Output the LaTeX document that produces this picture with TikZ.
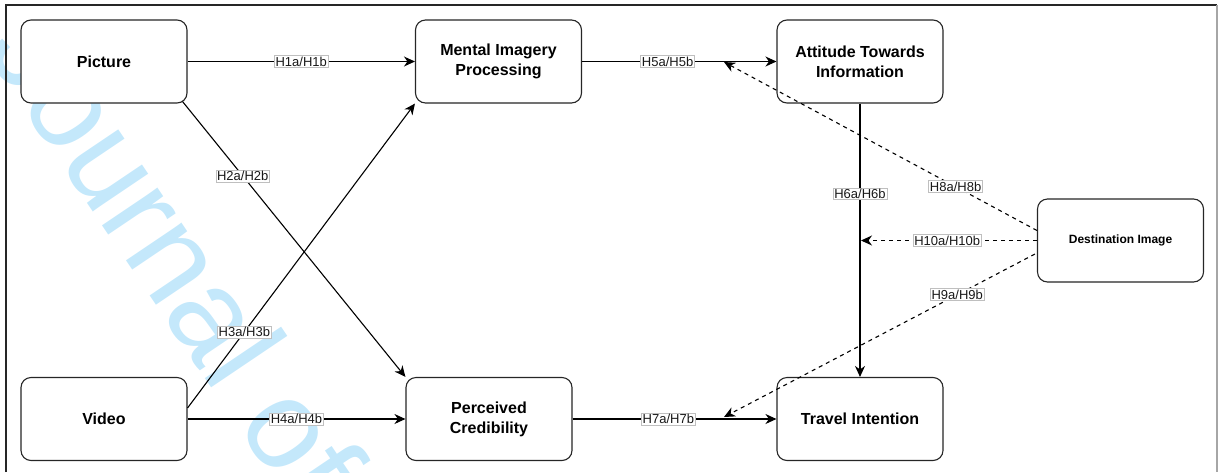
\documentclass[tikz,border=0pt]{standalone}
\usepackage{fontspec}
\setmainfont{Liberation Sans}
\usetikzlibrary{arrows.meta}
\definecolor{wm}{RGB}{196,232,251}
\begin{document}
\begin{tikzpicture}[x=1pt,y=-1pt,
  box/.style={draw=black!85, line width=1.1pt, rounded corners=10pt, fill=white,
    minimum width=166pt, minimum height=83pt, align=center, inner sep=0pt,
    font=\fontsize{16}{20}\selectfont\bfseries},
  arr/.style={line width=1.1pt, -{Stealth[length=11pt,width=10pt,inset=3.5pt]}},
  dsh/.style={arr, dash pattern=on 4pt off 4pt},
  lbl/.style={solid, draw=black!25, line width=0.6pt, fill=white, inner sep=1.2pt,
    font=\fontsize{13}{13}\selectfont, text=black!90}
]
\useasboundingbox (0,0) rectangle (1218,472);
% watermark
\node[text=wm, rotate=-56, anchor=base west, inner sep=0pt,
  font=\fontsize{127}{127}\selectfont] (wmk) at (-17,49) {Journal of};
% frame
\draw[line width=1.6pt, black!85] (6,472) -- (6,5) -- (1217,5);
\draw[line width=1.2pt, black!35] (1217,5) -- (1217,472);
% boxes
\node[box] (pic) at (104,61.5) {Picture};
\node[box] (vid) at (104,419) {Video};
\node[box] (mip) at (498.5,61.5) {Mental Imagery\\Processing};
\node[box] (pc)  at (489,419) {Perceived\\Credibility};
\node[box] (att) at (860,61.5) {Attitude Towards\\Information};
\node[box] (ti)  at (860,419) {Travel Intention};
\node[box, font=\fontsize{12}{14}\selectfont\bfseries] (di) at (1120.5,240.5) {Destination Image};
% free ends of dashed connectors
\coordinate (h8end) at (724,62);
\coordinate (h10end) at (861,240.5);
\coordinate (h9end) at (724,417);
% connectors
\draw[arr] (pic) -- node[lbl, pos=0.5] {H1a/H1b} (mip);
\draw[arr] ([xshift=-5pt,yshift=2pt]pic.south east) -- node[lbl, pos=0.27] {H2a/H2b} (pc.north west);
\draw[arr] ([yshift=11pt]vid.east) -- node[lbl, pos=0.25] {H3a/H3b} (mip.south west);
\draw[arr] (vid) -- node[lbl, pos=0.5] {H4a/H4b} (pc);
\draw[arr] (mip) -- node[lbl, pos=0.44] {H5a/H5b} (att);
\draw[arr] (att) -- node[lbl, pos=0.33] {H6a/H6b} (ti);
\draw[arr] (pc) -- node[lbl, pos=0.47] {H7a/H7b} (ti);
\draw[dsh] ([yshift=10pt]di.west) -- node[lbl, pos=0.26] {H8a/H8b} (h8end);
\draw[dsh] (di.west) -- node[lbl, pos=0.51] {H10a/H10b} (h10end);
\draw[dsh] ([xshift=-2pt,yshift=-13.5pt]di.west) -- node[lbl, pos=0.25] {H9a/H9b} (h9end);
\end{tikzpicture}
\end{document}
